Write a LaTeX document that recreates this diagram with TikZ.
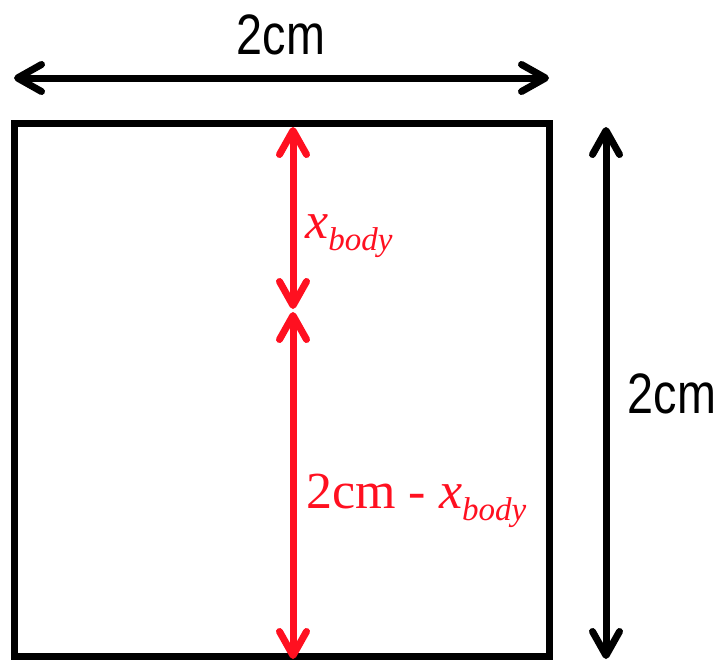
\documentclass[tikz,border=0pt]{standalone}
\usepackage{fontspec}
\setmainfont{Liberation Serif}
\newfontfamily\lblsans[FakeStretch=0.82]{Liberation Sans}
\usetikzlibrary{arrows.meta}
\definecolor{myred}{RGB}{255,16,32}
\tikzset{
  dim/.style={line width=7pt, {Straight Barb[round,length=24pt,width=27pt]}-{Straight Barb[round,length=24pt,width=27pt]}},
  reddim/.style={dim, draw=myred},
  boxline/.style={line width=7pt, draw=black},
  blacklbl/.style={inner sep=0pt, font=\lblsans\fontsize{57}{57}\selectfont},
  redlbl/.style={inner sep=0pt, text=myred, anchor=base west, font=\fontsize{52}{52}\selectfont}
}
\begin{document}
\begin{tikzpicture}[x=1pt,y=-1pt]
\useasboundingbox (0,0) rectangle (719,659);
% square
\coordinate (sqtl) at (14,123);
\coordinate (sqbr) at (549,656);
\draw[boxline] (sqtl) rectangle (sqbr);
% top dimension
\coordinate (tl) at (14,78);
\coordinate (tr) at (549,78);
\draw[dim] (tl) -- (tr);
\node[blacklbl] (toplbl) at (281,35) {2cm};
% right dimension
\coordinate (rt) at (606,127);
\coordinate (rb) at (606,659);
\draw[dim] (rt) -- (rb);
\node[blacklbl] (rightlbl) at (672,394) {2cm};
% red dimensions
\coordinate (r1t) at (293,127);
\coordinate (r1b) at (293,309);
\coordinate (r2t) at (293,312);
\coordinate (r2b) at (293,659);
\draw[reddim] (r1t) -- (r1b);
\draw[reddim] (r2t) -- (r2b);
\node[redlbl] (xlbl) at (305,238) {\textit{x}\raisebox{-12pt}{\fontsize{33}{33}\selectfont\itshape body}};
\node[redlbl] (restlbl) at (306,508) {2cm - \textit{x}\raisebox{-12pt}{\fontsize{33}{33}\selectfont\itshape body}};
\end{tikzpicture}
\end{document}
